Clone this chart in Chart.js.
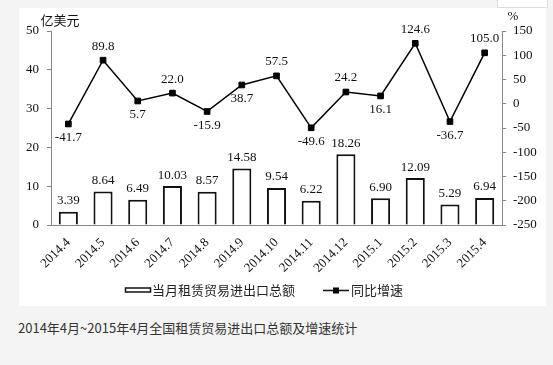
<!DOCTYPE html>
<html>
<head>
<meta charset="utf-8">
<script src="https://cdn.jsdelivr.net/npm/chart.js@4"></script>
<style>
  body { margin: 0; background: #f4f4f4; width: 553px; height: 365px; position: relative; overflow: hidden; }
  #panel { position: absolute; left: 19px; top: 8px; width: 527px; height: 298px; background: #fff; }
  #topbox { position: absolute; left: 497px; top: -1px; width: 49px; height: 7px; background: #fff; border: 1px solid #ddd; }
  #caption { position: absolute; left: 18px; top: 318px; font: 13px "Noto Sans CJK SC", sans-serif; color: #333; }
</style>
</head>
<body>
<div id="topbox"></div>
<div id="panel"><canvas id="grafico" width="527" height="298"></canvas></div>
<div id="caption">2014年4月~2015年4月全国租赁贸易进出口总额及增速统计</div>
<script>
// datos
const meses = ['2014.4', '2014.5', '2014.6', '2014.7', '2014.8', '2014.9', '2014.10', '2014.11', '2014.12', '2015.1', '2015.2', '2015.3', '2015.4'];
const totalMensual = [3.39, 8.64, 6.49, 10.03, 8.57, 14.58, 9.54, 6.22, 18.26, 6.90, 12.09, 5.29, 6.94];
const crecimiento = [-41.7, 89.8, 5.7, 22.0, -15.9, 38.7, 57.5, -49.6, 24.2, 16.1, 124.6, -36.7, 105.0];
const nombreBarras = '当月租赁贸易进出口总额';
const nombreLinea = '同比增速';

const serif = '"Liberation Serif", "Times New Roman", serif';
const cjk = '"Noto Sans CJK SC", sans-serif';

// etiquetas de valores + leyenda + títulos de ejes
const etiquetas = {
  id: 'etiquetas',
  afterDatasetsDraw(chart) {
    const ctx = chart.ctx;
    ctx.save();
    ctx.fillStyle = '#111';
    ctx.font = '13px ' + serif;
    ctx.textAlign = 'center';
    ctx.textBaseline = 'middle';
    chart.getDatasetMeta(1).data.forEach((bar, i) => {
      ctx.fillText(totalMensual[i].toFixed(2), bar.x, bar.y - 11);
    });
    chart.getDatasetMeta(0).data.forEach((pt, i) => {
      const v = crecimiento[i];
      const vecino = i < crecimiento.length - 1 ? crecimiento[i + 1] : crecimiento[i - 1];
      const arriba = i < crecimiento.length - 1 ? v > vecino : v > vecino;
      ctx.fillText(v.toFixed(1), pt.x, arriba ? pt.y - 14 : pt.y + 14);
    });

    // títulos de ejes
    ctx.font = '13px ' + cjk;
    ctx.fillText('亿美元', 41, 12);
    ctx.font = '13px ' + serif;
    ctx.fillText('%', 494, 9);

    // leyenda
    ctx.textAlign = 'left';
    ctx.strokeStyle = '#111';
    ctx.lineWidth = 1.5;
    ctx.strokeRect(106.5, 280, 25, 4);
    ctx.font = '13px ' + cjk;
    ctx.fillStyle = '#222';
    ctx.fillText(nombreBarras, 133, 282);
    ctx.beginPath();
    ctx.moveTo(304, 282.5);
    ctx.lineTo(330, 282.5);
    ctx.stroke();
    ctx.fillStyle = '#000';
    ctx.fillRect(314, 279.5, 6, 6);
    ctx.fillStyle = '#222';
    ctx.fillText(nombreLinea, 332, 282);
    ctx.restore();
  }
};

const ctx = document.getElementById('grafico').getContext('2d');
new Chart(ctx, {
  type: 'bar',
  data: {
    labels: meses,
    datasets: [{
      type: 'line',
      label: nombreLinea,
      data: crecimiento,
      yAxisID: 'y1',
      borderColor: '#000',
      borderWidth: 1.5,
      pointStyle: 'rect',
      pointRadius: 4,
      pointBackgroundColor: '#000',
      pointBorderColor: '#000',
      pointBorderWidth: 1,
      tension: 0,
      order: 0
    }, {
      label: nombreBarras,
      data: totalMensual,
      yAxisID: 'y',
      backgroundColor: '#fff',
      borderColor: '#111',
      borderWidth: 2,
      categoryPercentage: 1,
      barPercentage: 0.55,
      order: 1
    }]
  },
  options: {
    responsive: false,
    animation: false,
    layout: { padding: { top: 23, left: 0, right: 0, bottom: 0 } },
    plugins: { legend: { display: false }, tooltip: { enabled: false } },
    scales: {
      x: {
        grid: { display: false },
        border: { display: true, color: '#888', width: 1 },
        ticks: { color: '#111', font: { family: serif, size: 13 }, maxRotation: 45, minRotation: 45, padding: 2, autoSkip: false },
        afterFit: s => { s.height = 81; }
      },
      y: {
        position: 'left',
        min: 0, max: 50,
        ticks: { stepSize: 10, color: '#111', font: { family: serif, size: 13 }, padding: 8 },
        grid: { drawOnChartArea: false, drawTicks: true, tickLength: 4, color: '#888' },
        border: { color: '#888', width: 1 },
        afterFit: s => { s.width = 32; }
      },
      y1: {
        position: 'right',
        min: -250, max: 150,
        ticks: { stepSize: 50, color: '#111', font: { family: serif, size: 13 }, padding: 7 },
        grid: { drawOnChartArea: false, drawTicks: true, tickLength: 4, color: '#888' },
        border: { color: '#888', width: 1 },
        afterFit: s => { s.width = 44; }
      }
    }
  },
  plugins: [etiquetas]
});
</script>
</body>
</html>
